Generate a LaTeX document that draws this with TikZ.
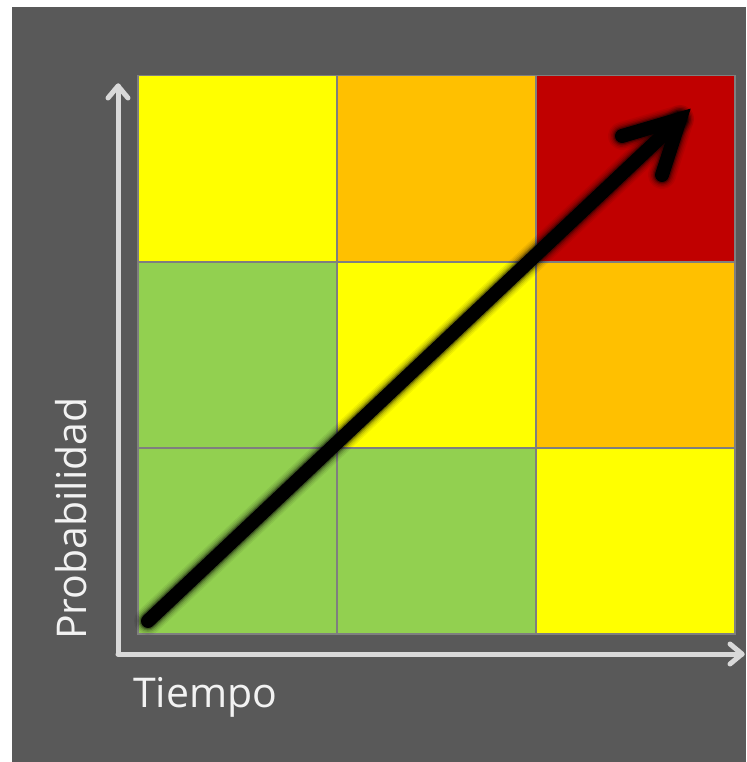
\documentclass[tikz,border=0pt]{standalone}
\usepackage{fontspec}
\setmainfont{Open Sans}
\usetikzlibrary{calc}
\definecolor{bggrey}{HTML}{595959}
\definecolor{cyellow}{HTML}{FFFF00}
\definecolor{corange}{HTML}{FFC000}
\definecolor{cred}{HTML}{C00000}
\definecolor{cgreen}{HTML}{92D050}
\definecolor{axisgrey}{HTML}{D9D9D9}
\definecolor{gridgrey}{HTML}{7F7F7F}
\definecolor{labelwhite}{HTML}{F2F2F2}
\tikzset{
  cell/.style={draw=gridgrey, line width=1.5pt, minimum width=199pt, minimum height=186pt, inner sep=0pt, anchor=north west},
  axisarrow/.style={draw=axisgrey, line width=5pt, line cap=round, line join=round},
  axishead/.style={draw=axisgrey, line width=5pt, line cap=round, line join=round},
  axislabel/.style={text=labelwhite, font=\fontsize{41}{48}\selectfont, inner sep=0pt},
  bigline/.style={line cap=round, line join=round},
}
\begin{document}
\begin{tikzpicture}[x=1pt,y=-1pt]
\useasboundingbox (0,0) rectangle (746,762);
\fill[white] (0,0) rectangle (746,762);
\fill[bggrey] (12,7) rectangle (746,762);
% cells
\node[cell, fill=cyellow] (c11) at (137,75) {};
\node[cell, fill=corange] (c12) at (336,75) {};
\node[cell, fill=cred]    (c13) at (535,75) {};
\node[cell, fill=cgreen]  (c21) at (137,261) {};
\node[cell, fill=cyellow] (c22) at (336,261) {};
\node[cell, fill=corange] (c23) at (535,261) {};
\node[cell, fill=cgreen]  (c31) at (137,447) {};
\node[cell, fill=cgreen]  (c32) at (336,447) {};
\node[cell, fill=cyellow] (c33) at (535,447) {};
% axes
\coordinate (o) at (118,654);
\coordinate (ytip) at (118,86);
\coordinate (xtip) at (742,654);
\draw[axisarrow] (o) -- (ytip);
\draw[axisarrow] (o) -- (xtip);
\draw[axishead] ($(ytip)+(-10,12)$) -- (ytip) -- ($(ytip)+(10,12)$);
\draw[axishead] ($(xtip)+(-12,-10)$) -- (xtip) -- ($(xtip)+(-12,10)$);
% labels
\node[axislabel, anchor=base west] (tl) at (133,707) {Tiempo};
\node[axislabel, rotate=90, anchor=base west] (pl) at (86,640) {Probabilidad};
% trend arrow
\coordinate (s) at (148,621);
\coordinate (e) at (680,119);
\coordinate (b1) at (622,136);
\coordinate (b2) at (662,175);
\begin{scope}[shift={(1.5,1.5)}]
\foreach \w/\op in {28/0.06, 25/0.08, 22/0.12, 19/0.2, 16.5/0.3}{
  \draw[bigline, black, opacity=\op, line width=\w pt] (s) -- (e);
  \draw[bigline, black, opacity=\op, line width=\w pt] (b1) -- (e) -- (b2);
}
\end{scope}
\draw[bigline, black, line width=14pt] (s) -- (e);
\draw[bigline, black, line width=14pt, line join=miter] (b1) -- (e) -- (b2);
\end{tikzpicture}
\end{document}
